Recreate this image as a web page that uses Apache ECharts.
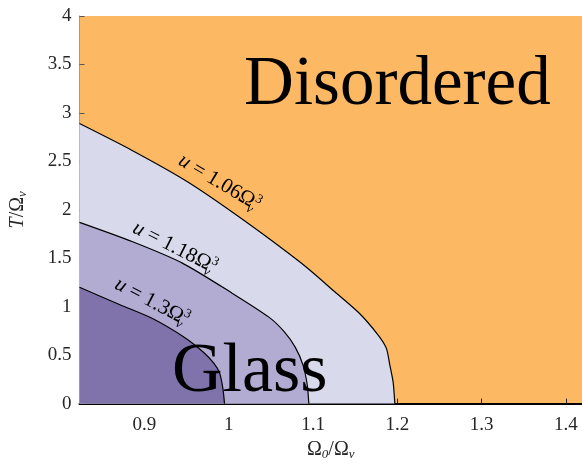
<!DOCTYPE html>
<html><head><meta charset="utf-8">
<script src="https://cdn.jsdelivr.net/npm/echarts@6/dist/echarts.min.js"></script>
<style>html,body{margin:0;padding:0;background:#fff}#c{width:582px;height:466px}</style>
</head><body><div id="c"></div>
<script>
// Data
const xTicks = [0.9, 1, 1.1, 1.2, 1.3, 1.4];
const yTicks = [0, 0.5, 1, 1.5, 2, 2.5, 3, 3.5, 4];
const outerX = [0.823, 0.886, 0.951, 1.015, 1.086, 1.125, 1.154, 1.177, 1.187, 1.191, 1.195, 1.197];
const outerT = [2.89, 2.61, 2.29, 1.91, 1.45, 1.16, 0.94, 0.71, 0.57, 0.40, 0.22, 0];
const midX = [0.823, 0.886, 0.945, 1.004, 1.048, 1.066, 1.079, 1.088, 1.093, 1.095];
const midT = [1.87, 1.67, 1.45, 1.14, 0.89, 0.74, 0.58, 0.40, 0.20, 0];
const innerX = [0.823, 0.871, 0.909, 0.948, 0.970, 0.982, 0.989, 0.993, 0.995];
const innerT = [1.20, 1.02, 0.88, 0.68, 0.53, 0.42, 0.32, 0.16, 0];
const contourLabels = ['1.06', '1.18', '1.3'];
const labelPos = [[0.989, 2.28, -31], [0.936, 1.61, -27], [0.909, 1.05, -28]];
const fills = ['#d8daeb', '#b2abd2', '#8073ac'];

const serif = 'Liberation Serif';
const pairs = (xs, ys) => xs.map((x, i) => [x, ys[i]]);
const chart = echarts.init(document.getElementById('c'));
const curves = [pairs(outerX, outerT), pairs(midX, midT), pairs(innerX, innerT)];

chart.setOption({
  animation: false,
  grid: { left: 77, right: 0, top: 16, bottom: 60, show: true, backgroundColor: '#fdb863', borderWidth: 0 },
  xAxis: {
    type: 'value', min: 0.823, max: 1.419,
    name: '{n|Ω}{s|0}{n|/Ω}{s|v}', nameLocation: 'middle', nameGap: 30,
    nameTextStyle: { rich: { n: { fontFamily: serif, fontSize: 20, color: '#262626' }, s: { fontFamily: serif, fontStyle: 'italic', fontSize: 13, color: '#262626', padding: [10, 0, 0, 0] } } },
    axisLine: { show: true, lineStyle: { color: '#000', width: 2 } },
    axisTick: { show: true, inside: true, length: 5, lineStyle: { color: '#222' }, customValues: xTicks },
    axisLabel: { fontFamily: serif, fontSize: 19, color: '#262626', margin: 12, customValues: xTicks, formatter: v => String(+v.toFixed(2)) },
    splitLine: { show: false }
  },
  yAxis: {
    type: 'value', min: 0, max: 4, interval: 0.5,
    name: '{i|T}{n|/Ω}{s|v}', nameLocation: 'middle', nameGap: 50,
    nameTextStyle: { rich: { i: { fontFamily: serif, fontStyle: 'italic', fontSize: 20, color: '#262626' }, n: { fontFamily: serif, fontSize: 20, color: '#262626' }, s: { fontFamily: serif, fontStyle: 'italic', fontSize: 13, color: '#262626', padding: [10, 0, 0, 0] } } },
    axisLine: { show: true, lineStyle: { color: '#999', width: 1 } },
    axisTick: { show: true, inside: true, length: 5, lineStyle: { color: '#555' } },
    axisLabel: { fontFamily: serif, fontSize: 19, color: '#262626', margin: 8, formatter: v => String(v) },
    splitLine: { show: false }
  },
  series: curves.map((d, i) => ({
    type: 'line', data: d, smooth: 0.25, symbol: 'none', z: 2 + i,
    lineStyle: { color: '#000', width: 1.2 },
    areaStyle: { color: fills[i], opacity: 1 }
  }))
});

function place() {
  const g = [];
  contourLabels.forEach((c, i) => {
    const p = chart.convertToPixel({ gridIndex: 0 }, [labelPos[i][0], labelPos[i][1]]);
    g.push({
      type: 'text', x: p[0], y: p[1], rotation: labelPos[i][2] * Math.PI / 180, z: 100,
      style: {
        text: '{i|u} = ' + c + 'Ω{s|v}{p|3}', align: 'center', verticalAlign: 'middle',
        rich: {
          i: { fontFamily: serif, fontStyle: 'italic', fontSize: 21, fill: '#000' },
          s: { fontFamily: serif, fontStyle: 'italic', fontSize: 13, fill: '#000', width: 0, padding: [14, 0, 0, 0] },
          p: { fontFamily: serif, fontSize: 13, fill: '#000', padding: [0, 0, 12, 0] }
        },
        fontFamily: serif, fontSize: 21, fill: '#000'
      }
    });
  });
  const d = chart.convertToPixel({ gridIndex: 0 }, [1.2, 2.92]);
  g.push({ type: 'text', x: d[0], y: d[1], z: 100, style: { text: 'Disordered', fontFamily: serif, fontSize: 69, fill: '#000', align: 'center', verticalAlign: 'bottom' } });
  const gl = chart.convertToPixel({ gridIndex: 0 }, [1.025, -0.04]);
  g.push({ type: 'text', x: gl[0], y: gl[1], z: 100, style: { text: 'Glass', fontFamily: serif, fontSize: 70, fill: '#000', align: 'center', verticalAlign: 'bottom' } });
  chart.setOption({ graphic: g });
}
place();
</script></body></html>
